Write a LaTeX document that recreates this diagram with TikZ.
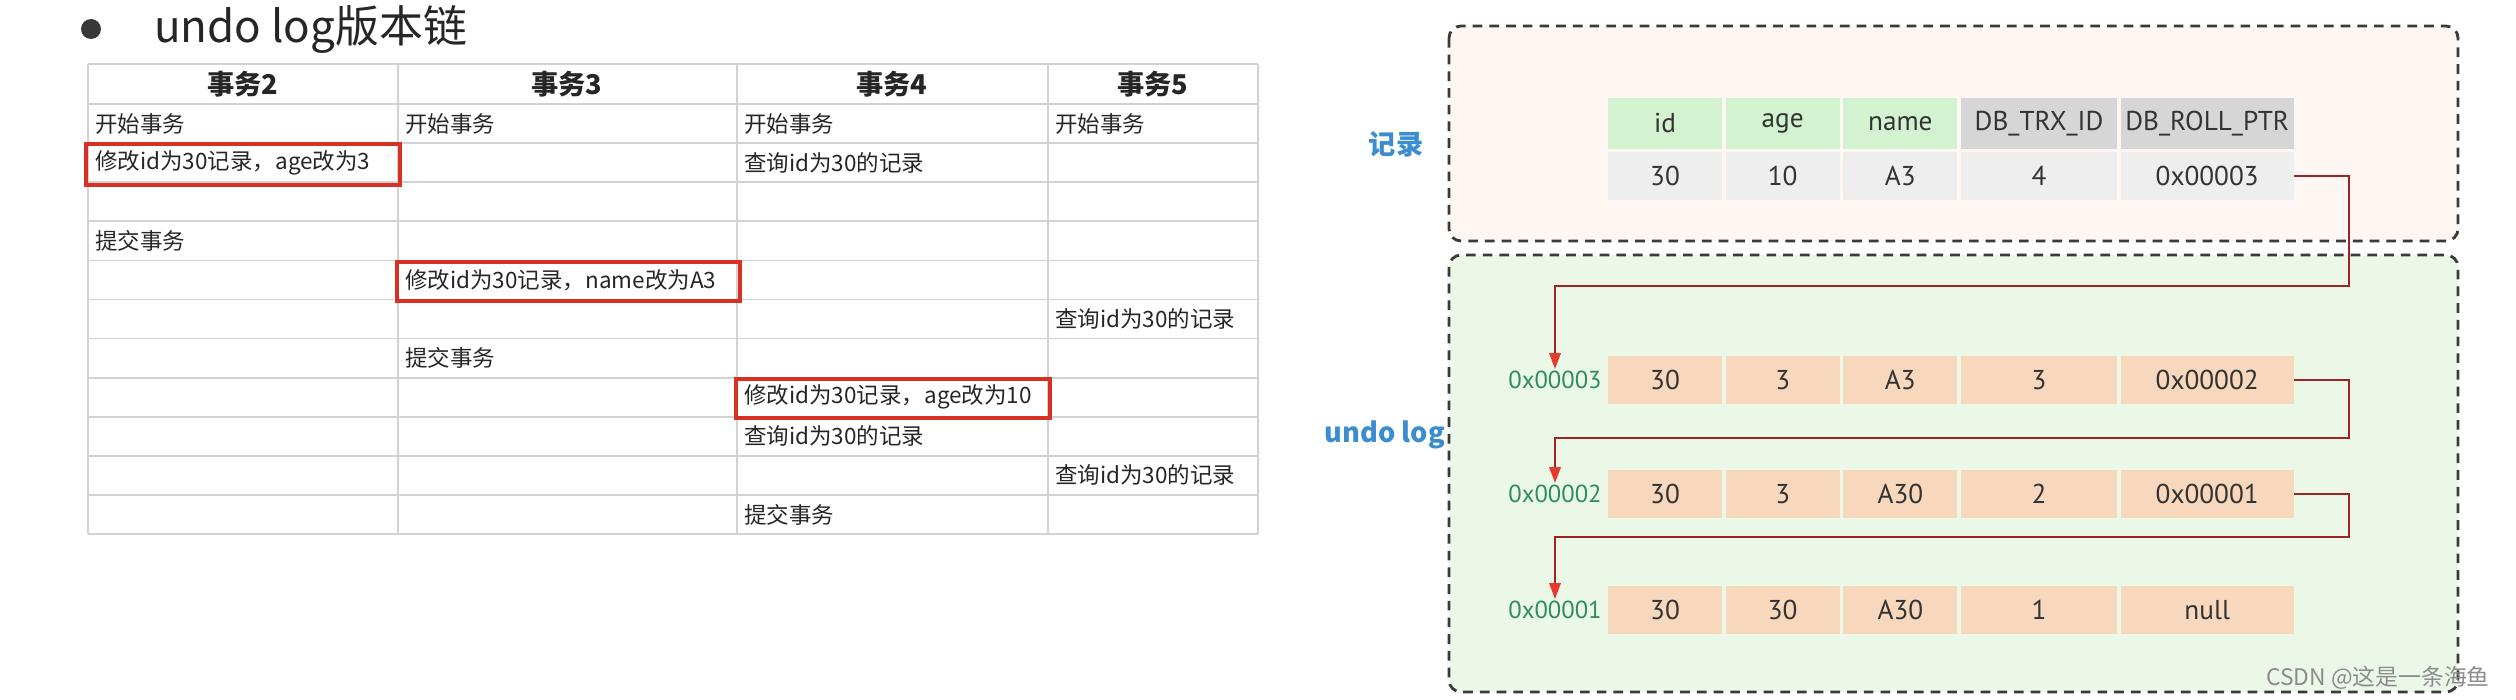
\documentclass[tikz,border=0pt]{standalone}
\usepackage{fontspec}
\setmainfont{Noto Sans CJK SC}
\newfontfamily\cellfont{PT Sans}
\usetikzlibrary{positioning,arrows.meta}

\definecolor{gridgrey}{HTML}{D2D2D2}
\definecolor{boxred}{HTML}{D93025}
\definecolor{pinkbg}{HTML}{FDF6F3}
\definecolor{greenbg}{HTML}{EBF8E7}
\definecolor{hdgreen}{HTML}{D3F2CF}
\definecolor{hdgrey}{HTML}{D6D6D6}
\definecolor{rowgrey}{HTML}{EEEEEE}
\definecolor{peach}{HTML}{F8D8BC}
\definecolor{addrgreen}{HTML}{2E8B62}
\definecolor{labelblue}{HTML}{3C8DD0}
\definecolor{linered}{HTML}{9E2226}
\definecolor{tipred}{HTML}{E53A2E}
\definecolor{dashgrey}{HTML}{3A3A3A}

\begin{document}
\begin{tikzpicture}[x=0.02cm,y=-0.02cm,
    gridline/.style={draw=gridgrey,line width=1pt},
    hdr/.style={font=\fontsize{15.5}{18}\selectfont\bfseries,text=black!85},
    txt/.style={anchor=west,inner sep=0pt,font=\fontsize{12.8}{15}\selectfont,text=black!85},
    redbox/.style={draw=boxred,line width=2.2pt},
    dashbox/.style={draw=dashgrey,line width=1.6pt,dash pattern=on 5.5pt off 4pt,rounded corners=0.24cm},
    fld/.style={minimum height=0.96cm,inner sep=0pt,font=\cellfont\fontsize{15.5}{18}\selectfont,text=black!80},
    narrowcol/.style={minimum width=2.28cm},
    midcol/.style={minimum width=3.12cm},
    widecol/.style={minimum width=3.46cm},
    addr/.style={inner sep=1pt,font=\cellfont\fontsize{14}{16}\selectfont,text=addrgreen},
    side/.style={font=\fontsize{15.5}{18}\selectfont\bfseries,text=labelblue},
    ptr/.style={draw=linered,line width=1.1pt,-{Triangle[length=9pt,width=6.5pt,color=tipred,fill=tipred]}}
  ]
    \useasboundingbox (0,0) rectangle (2516,700);

    % title
    \node[circle,fill=black!78,minimum size=0.4cm,inner sep=0pt] (dot) at (91,29) {};
    \node[right=1.05cm of dot,inner sep=0pt,font=\fontsize{25}{29}\selectfont,text=black!85] (title) {undo log版本链};

    % transaction table
    \foreach \x in {88,398,737,1048,1258}
      \draw[gridline] (\x,64) -- (\x,534);
    \draw[gridline] (88,64) -- (1258,64);
    \foreach \k in {0,...,11}
      \draw[gridline] (88,{104+39.1*\k}) -- (1258,{104+39.1*\k});

    \node[hdr] (tx2) at (243,84) {事务2};
    \node[hdr] (tx3) at (567,84) {事务3};
    \node[hdr] (tx4) at (892,84) {事务4};
    \node[hdr] (tx5) at (1153,84) {事务5};

    \node[txt] (t2a) at (95,124) {开始事务};
    \node[txt] (t3a) at (405,124) {开始事务};
    \node[txt] (t4a) at (744,124) {开始事务};
    \node[txt] (t5a) at (1055,124) {开始事务};
    \node[txt] (t2b) at (95,163) {修改id为30记录，age改为3};
    \node[txt] (t4b) at (744,163) {查询id为30的记录};
    \node[txt] (t2c) at (95,241) {提交事务};
    \node[txt] (t3b) at (405,280) {修改id为30记录，name改为A3};
    \node[txt] (t5b) at (1055,319) {查询id为30的记录};
    \node[txt] (t3c) at (405,358) {提交事务};
    \node[txt] (t4c) at (744,397) {修改id为30记录，age改为10};
    \node[txt] (t4d) at (744,436) {查询id为30的记录};
    \node[txt] (t5c) at (1055,475) {查询id为30的记录};
    \node[txt] (t4e) at (744,515) {提交事务};

    \draw[redbox] (86,144) rectangle (400,185);
    \draw[redbox] (397,262) rectangle (740,301);
    \draw[redbox] (736,379) rectangle (1050,418);

    % record and undo log
    \draw[dashbox,fill=pinkbg] (1449,26) rectangle (2458,241);
    \draw[dashbox,fill=greenbg] (1449,255) rectangle (2458,692);

    \node[side] (reclab) at (1396,144) {记录};
    \node[side,anchor=east] (undolab) at (1451,435) {undo log};

    \node[fld,fill=hdgreen,narrowcol,minimum height=1.02cm] (h1) at (1665,123.5) {id};
    \node[fld,fill=hdgreen,narrowcol,minimum height=1.02cm,right=0.06cm of h1] (h2) {age};
    \node[fld,fill=hdgreen,narrowcol,minimum height=1.02cm,right=0.06cm of h2] (h3) {name};
    \node[fld,fill=hdgrey,midcol,minimum height=1.02cm,right=0.06cm of h3] (h4) {DB\_TRX\_ID};
    \node[fld,fill=hdgrey,widecol,minimum height=1.02cm,right=0.06cm of h4] (h5) {DB\_ROLL\_PTR};

    \node[fld,fill=rowgrey,narrowcol] (d1) at (1665,176) {30};
    \node[fld,fill=rowgrey,narrowcol,right=0.06cm of d1] (d2) {10};
    \node[fld,fill=rowgrey,narrowcol,right=0.06cm of d2] (d3) {A3};
    \node[fld,fill=rowgrey,midcol,right=0.06cm of d3] (d4) {4};
    \node[fld,fill=rowgrey,widecol,right=0.06cm of d4] (d5) {0x00003};

    \node[fld,fill=peach,narrowcol] (a3c1) at (1665,380) {30};
    \node[fld,fill=peach,narrowcol,right=0.06cm of a3c1] (a3c2) {3};
    \node[fld,fill=peach,narrowcol,right=0.06cm of a3c2] (a3c3) {A3};
    \node[fld,fill=peach,midcol,right=0.06cm of a3c3] (a3c4) {3};
    \node[fld,fill=peach,widecol,right=0.06cm of a3c4] (a3c5) {0x00002};
    \node[addr,left=0.08cm of a3c1] (lab3) {0x00003};

    \node[fld,fill=peach,narrowcol] (a2c1) at (1665,494) {30};
    \node[fld,fill=peach,narrowcol,right=0.06cm of a2c1] (a2c2) {3};
    \node[fld,fill=peach,narrowcol,right=0.06cm of a2c2] (a2c3) {A30};
    \node[fld,fill=peach,midcol,right=0.06cm of a2c3] (a2c4) {2};
    \node[fld,fill=peach,widecol,right=0.06cm of a2c4] (a2c5) {0x00001};
    \node[addr,left=0.08cm of a2c1] (lab2) {0x00002};

    \node[fld,fill=peach,narrowcol] (a1c1) at (1665,610) {30};
    \node[fld,fill=peach,narrowcol,right=0.06cm of a1c1] (a1c2) {30};
    \node[fld,fill=peach,narrowcol,right=0.06cm of a1c2] (a1c3) {A30};
    \node[fld,fill=peach,midcol,right=0.06cm of a1c3] (a1c4) {1};
    \node[fld,fill=peach,widecol,right=0.06cm of a1c4] (a1c5) {null};
    \node[addr,left=0.08cm of a1c1] (lab1) {0x00001};

    \draw[ptr] (d5.east) -- ++(55,0) -- ++(0,110) -| (lab3.north);
    \draw[ptr] (a3c5.east) -- ++(55,0) -- ++(0,58) -| (lab2.north);
    \draw[ptr] (a2c5.east) -- ++(55,0) -- ++(0,43) -| (lab1.north);

    \node[font=\fontsize{13}{15}\selectfont,text=black!45] (wm) at (2378,678) {CSDN @这是一条海鱼};
  \end{tikzpicture}
\end{document}
